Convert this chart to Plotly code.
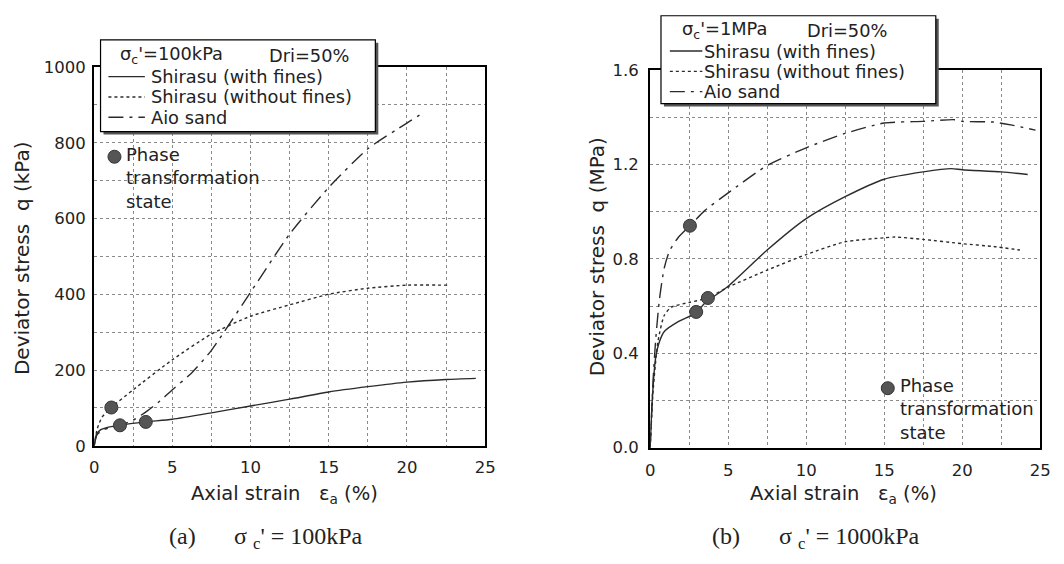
import plotly.graph_objects as go

# ---- (a) sigma_c' = 100 kPa : deviator stress q (kPa) vs axial strain (%) ----
strain_wf_a = [0, 0.15, 0.4, 0.8, 1.6, 3.3, 5, 7.5, 10, 12.5, 15, 17.5, 20, 22.5, 24.4]
q_wf_a = [0, 30, 42, 48, 54, 63, 70, 87, 105, 123, 142, 156, 168, 175, 178]

strain_wof_a = [0, 0.2, 0.5, 1.1, 2.5, 5, 7.5, 10, 12.5, 15, 17.5, 20, 22.7]
q_wof_a = [0, 45, 75, 101, 148, 227, 295, 342, 372, 400, 416, 424, 424]

strain_aio_a = [0, 0.2, 0.6, 1.0, 1.65, 2.5, 3.4, 4.2, 5, 6.25, 7.5, 8.3, 10, 12.5, 15, 17.5, 20, 21]
q_aio_a = [0, 30, 42, 48, 54, 68, 92, 118, 148, 193, 252, 300, 405, 559, 682, 784, 852, 878]

# phase transformation points (with fines, without fines, Aio sand)
pt_strain_a = [3.3, 1.1, 1.65]
pt_q_a = [63, 101, 54]

# ---- (b) sigma_c' = 1 MPa : deviator stress q (MPa) vs axial strain (%) ----
strain_wf_b = [0, 0.15, 0.35, 0.6, 0.92, 1.8, 2.95, 3.5, 5, 7.5, 10, 12.5, 15, 17.5, 19.3, 20, 22.5, 24.2]
q_wf_b = [0, 0.22, 0.38, 0.45, 0.493, 0.534, 0.571, 0.612, 0.684, 0.837, 0.970, 1.063, 1.137, 1.168, 1.182, 1.177, 1.168, 1.157]

strain_wof_b = [0, 0.2, 0.5, 0.9, 1.35, 2.5, 3.7, 5, 7.5, 10, 12.5, 15, 15.7, 17.5, 20, 22, 23.7]
q_wof_b = [0, 0.25, 0.45, 0.56, 0.595, 0.615, 0.634, 0.68, 0.752, 0.818, 0.872, 0.889, 0.892, 0.882, 0.864, 0.852, 0.837]

strain_aio_b = [0, 0.2, 0.37, 0.6, 0.9, 1.25, 1.8, 2.55, 3.5, 5, 7.5, 10, 12.5, 15, 17.5, 19.5, 20, 22, 23.2, 24.7]
q_aio_b = [0, 0.3, 0.47, 0.63, 0.76, 0.835, 0.89, 0.94, 1.004, 1.079, 1.195, 1.270, 1.331, 1.375, 1.382, 1.389, 1.382, 1.379, 1.366, 1.345]

pt_strain_b = [2.95, 3.7, 2.55]
pt_q_b = [0.575, 0.634, 0.94]

# key symbol for "Phase transformation state"
key_a = (1.3, 763)
key_b = (15.23, 0.252)

series_names = ["Shirasu (with fines)", "Shirasu (without fines)", "Aio sand"]
dashes = ["solid", "dot", "longdashdot"]
key_label = "Phase<br>transformation<br>state"

FONT = "DejaVu Sans"
TXT_C = "#222222"
LINE_C = "#2b2b2b"
MARK_C = "#555555"
GRID_C = "#8a8a8a"

W, H = 1064, 564


def px_x(p):
    return p / W


def px_y(p):
    return 1 - p / H


fig = go.Figure()

panels = [
    ("x", "y", [(strain_wf_a, q_wf_a), (strain_wof_a, q_wof_a), (strain_aio_a, q_aio_a)],
     pt_strain_a, pt_q_a, key_a),
    ("x2", "y2", [(strain_wf_b, q_wf_b), (strain_wof_b, q_wof_b), (strain_aio_b, q_aio_b)],
     pt_strain_b, pt_q_b, key_b),
]

for xa, ya, curves, pts_x, pts_y, key in panels:
    for (sx, sq), name, dash in zip(curves, series_names, dashes):
        fig.add_trace(go.Scatter(
            x=sx, y=sq, mode="lines", name=name, showlegend=False,
            xaxis=xa, yaxis=ya,
            line=dict(color=LINE_C, width=1.4, dash=dash, shape="spline", smoothing=0.6),
        ))
    fig.add_trace(go.Scatter(
        x=pts_x + [key[0]], y=pts_y + [key[1]], mode="markers", showlegend=False,
        xaxis=xa, yaxis=ya, cliponaxis=False,
        marker=dict(size=13, color=MARK_C, line=dict(color="#333333", width=1)),
    ))
    # key text beside the key symbol
    fig.add_annotation(
        xref=xa, yref=ya, x=key[0], y=key[1], text=key_label, showarrow=False,
        xanchor="left", yanchor="top", align="left", xshift=10, yshift=15,
        font=dict(family=FONT, size=18, color=TXT_C),
    )

axis_common = dict(
    showline=True, linecolor="black", linewidth=2, mirror=True,
    showgrid=True, gridcolor=GRID_C, griddash="dot", gridwidth=1,
    zeroline=False, ticks="",
    tickfont=dict(family=FONT, size=16.5, color=TXT_C),
)
minor_x = dict(dtick=2.5, showgrid=True, gridcolor=GRID_C, griddash="dot")

fig.update_layout(
    width=W, height=H,
    margin=dict(l=0, r=0, t=0, b=0),
    paper_bgcolor="white", plot_bgcolor="white",
    showlegend=False,
    xaxis=dict(domain=[px_x(90.5), px_x(487.5)], range=[0, 25], dtick=5, minor=minor_x,
               ticklabelstandoff=5, anchor="y", **axis_common),
    yaxis=dict(domain=[px_y(452), px_y(60)], range=[0, 1000], dtick=200,
               minor=dict(dtick=100, showgrid=True, gridcolor=GRID_C, griddash="dot"),
               ticklabelstandoff=3, anchor="x", **axis_common),
    xaxis2=dict(domain=[px_x(655), px_x(1051)], range=[0, 25], dtick=5, minor=minor_x,
                ticklabelstandoff=6, anchor="y2", **axis_common),
    yaxis2=dict(domain=[px_y(454), px_y(63)], range=[0, 1.6], dtick=0.4, tickformat=".1f",
                minor=dict(dtick=0.2, showgrid=True, gridcolor=GRID_C, griddash="dot"),
                ticklabelstandoff=6, anchor="x2", **axis_common),
)

# ---- legend boxes (pixel positions on the page) ----
legend_boxes = [
    dict(box=(97, 32, 376, 127), title=[(115, "σ<sub>c</sub>'=100kPa"), (266, "Dri=50%")],
         title_y=48, sx=(105, 142), tx=146, rows=(70, 91, 112)),
    dict(box=(666, 7, 945, 98), title=[(685, "σ<sub>c</sub>'=1MPa"), (812, "Dri=50%")],
         title_y=22, sx=(675, 708), tx=708, rows=(43.5, 64.5, 85.5)),
]

leg_font = dict(family=FONT, size=17.8, color=TXT_C)
for lb in legend_boxes:
    x0, y0, x1, y1 = lb["box"]
    # drop shadow
    fig.add_shape(type="rect", xref="paper", yref="paper", layer="above",
                  x0=px_x(x0 + 3), x1=px_x(x1 + 3), y0=px_y(y1 + 3), y1=px_y(y0 + 3),
                  fillcolor="#555555", line=dict(width=0))
    fig.add_shape(type="rect", xref="paper", yref="paper", layer="above",
                  x0=px_x(x0), x1=px_x(x1), y0=px_y(y1), y1=px_y(y0),
                  fillcolor="white", line=dict(color="black", width=1.2))
    for tx, tt in lb["title"]:
        fig.add_annotation(xref="paper", yref="paper", x=px_x(tx), y=px_y(lb["title_y"]),
                           text=tt, showarrow=False, xanchor="left", yanchor="middle",
                           font=leg_font)
    for ry, name, dash in zip(lb["rows"], series_names, dashes):
        fig.add_shape(type="line", xref="paper", yref="paper", layer="above",
                      x0=px_x(lb["sx"][0]), x1=px_x(lb["sx"][1]), y0=px_y(ry), y1=px_y(ry),
                      line=dict(color=LINE_C, width=1.4, dash=dash))
        fig.add_annotation(xref="paper", yref="paper", x=px_x(lb["tx"]), y=px_y(ry),
                           text=name, showarrow=False, xanchor="left", yanchor="middle",
                           font=leg_font)

title_font = dict(family=FONT, size=20, color=TXT_C)
xt_font = dict(family=FONT, size=19.5, color=TXT_C)
cap_font = dict(family="Liberation Serif", size=24, color=TXT_C)

annotations = [
    dict(text="Deviator stress&nbsp;&nbsp;q (kPa)", x=px_x(18), y=px_y(258), textangle=-90,
         xanchor="center", font=title_font),
    dict(text="Deviator stress&nbsp;&nbsp;q (MPa)", x=px_x(601), y=px_y(256), textangle=-90,
         xanchor="center", font=title_font),
    dict(text="Axial strain&nbsp;&nbsp;&nbsp;ε<sub>a</sub> (%)", x=px_x(187), y=px_y(502),
         xanchor="left", font=xt_font),
    dict(text="Axial strain&nbsp;&nbsp;&nbsp;ε<sub>a</sub> (%)", x=px_x(754), y=px_y(502),
         xanchor="left", font=xt_font),
    dict(text="(a)", x=px_x(164), y=px_y(545), xanchor="left", font=cap_font),
    dict(text="σ&nbsp;<sub>c</sub>'&nbsp;= 100kPa", x=px_x(230), y=px_y(547), xanchor="left", font=cap_font),
    dict(text="(b)", x=px_x(716), y=px_y(545), xanchor="left", font=cap_font),
    dict(text="σ&nbsp;<sub>c</sub>'&nbsp;= 1000kPa", x=px_x(784), y=px_y(547), xanchor="left", font=cap_font),
]
for a in annotations:
    fig.add_annotation(xref="paper", yref="paper", showarrow=False, yanchor="middle", **a)

fig.write_html("out.html")
